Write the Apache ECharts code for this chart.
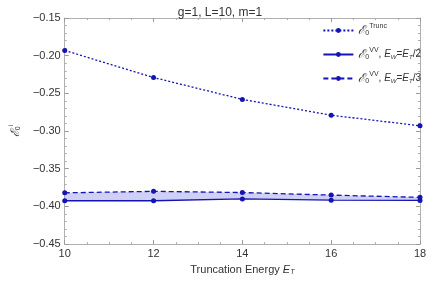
<!DOCTYPE html>
<html><head><meta charset="utf-8">
<script src="https://cdn.jsdelivr.net/npm/echarts@6/dist/echarts.min.js"></script>
<style>html,body{margin:0;padding:0;background:#fff}#c{width:440px;height:281px}</style>
</head><body><div id="c"></div>
<script>
const energies = [10, 12, 14, 16, 18];
const trunc = [-0.193, -0.229, -0.258, -0.279, -0.293];
const vvHalf = [-0.3925, -0.3925, -0.390, -0.3917, -0.392];
const vvThird = [-0.382, -0.380, -0.3816, -0.385, -0.388];
const xTicks = [10, 12, 14, 16, 18];
const yTicks = [-0.45, -0.40, -0.35, -0.30, -0.25, -0.20, -0.15];

const blue = '#1414b4';
const pair = a => a.map((v, i) => [energies[i], v]);
const bandData = energies.map((e, i) => [e, vvHalf[i], vvThird[i]]);
const rich = {
  e: {fontFamily: 'DejaVu Serif', fontStyle: 'italic', fontSize: 12, color: '#333'},
  sub: {fontSize: 7, color: '#333', padding: [6, 0, 0, 0]},
  sup: {fontSize: 7, color: '#333', padding: [0, 0, 8, 0]},
  t: {fontSize: 10, color: '#333'},
  it: {fontSize: 10, fontStyle: 'italic', color: '#333'},
  s: {fontSize: 6, fontStyle: 'italic', color: '#333', padding: [5, 0, 0, 0]}
};
const chart = echarts.init(document.getElementById('c'));
const axisLine = {show: true, lineStyle: {color: '#b0b0b0', width: 1}};
const axisTick = {show: true, inside: true, length: 4, lineStyle: {color: '#999'}};
chart.setOption({
  animation: false,
  title: {text: 'g=1, L=10, m=1', left: 'center', top: 2,
    textStyle: {fontSize: 12, fontWeight: 'normal', color: '#333', fontFamily: 'Liberation Sans'}},
  grid: {left: 55, right: 20, top: 18, bottom: 35},
  legend: {
    right: 14, top: 18, orient: 'vertical', itemGap: 10, itemWidth: 30, itemHeight: 6,
    data: ['trunc', 'half', 'third'],
    formatter: n => n === 'trunc' ? '{e|ℰ}{sub|0}{sup|Trunc}'
      : n === 'half' ? '{e|ℰ}{sub|0}{sup|VV}{t|, }{it|E}{s|W}{t|=}{it|E}{s|T}{t|/2}'
      : '{e|ℰ}{sub|0}{sup|VV}{t|, }{it|E}{s|W}{t|=}{it|E}{s|T}{t|/3}',
    textStyle: {rich: rich, fontSize: 10}
  },
  xAxis: [
    {type: 'value', min: 10, max: 18, interval: 2, position: 'bottom',
      axisLabel: {color: '#333', fontSize: 11, margin: 4, fontFamily: 'Liberation Sans'},
      axisLine: axisLine, axisTick: axisTick,
      minorTick: {show: true, splitNumber: 4, length: 2, lineStyle: {color: '#aaa'}}, splitLine: {show: false},
      name: '{t|Truncation Energy }{it|E}{s|T}', nameLocation: 'middle', nameGap: 17,
      nameTextStyle: {rich: {t: {fontSize: 11, color: '#333'}, it: {fontSize: 11, fontStyle: 'italic', color: '#333'}, s: {fontSize: 7, fontStyle: 'italic', color: '#333', padding: [6,0,0,0]}}}
    },
    {type: 'value', min: 10, max: 18, interval: 2, position: 'top', axisLabel: {show: false},
      axisLine: axisLine, axisTick: axisTick,
      minorTick: {show: true, splitNumber: 4, length: 2, lineStyle: {color: '#aaa'}}, splitLine: {show: false}}
  ],
  yAxis: [
    {type: 'value', min: -0.45, max: -0.15, interval: 0.05, position: 'left',
      axisLabel: {color: '#333', fontSize: 11, margin: 4, fontFamily: 'Liberation Sans',
        formatter: v => (v < 0 ? '\u2212' : '') + Math.abs(v).toFixed(2)},
      axisLine: axisLine, axisTick: axisTick,
      minorTick: {show: true, splitNumber: 5, length: 2, lineStyle: {color: '#aaa'}}, splitLine: {show: false},
      name: '{e|ℰ}{sub|0}{sup|i}', nameLocation: 'middle', nameGap: 38, nameRotate: 90,
      nameTextStyle: {rich: rich}},
    {type: 'value', min: -0.45, max: -0.15, interval: 0.05, position: 'right', axisLabel: {show: false},
      axisLine: axisLine, axisTick: axisTick,
      minorTick: {show: true, splitNumber: 5, length: 2, lineStyle: {color: '#aaa'}}, splitLine: {show: false}}
  ],
  series: [
    {name: 'band', type: 'custom', data: bandData, silent: true, z: 1,
      encode: {x: 0, y: [1, 2]},
      renderItem: (params, api) => {
        if (params.dataIndex !== 0) return null;
        const lower = [], upper = [];
        for (let i = 0; i < bandData.length; i++) {
          lower.push(api.coord([bandData[i][0], bandData[i][1]]));
          upper.push(api.coord([bandData[i][0], bandData[i][2]]));
        }
        return {type: 'polygon', shape: {points: lower.concat(upper.reverse())},
          style: {fill: 'rgba(100,100,220,0.3)'}};
      }},
    {name: 'trunc', type: 'line', data: pair(trunc), symbol: 'circle', symbolSize: 5,
      itemStyle: {color: blue}, lineStyle: {color: blue, width: 1.3, type: [2, 2]}, z: 3},
    {name: 'half', type: 'line', data: pair(vvHalf), symbol: 'circle', symbolSize: 5,
      itemStyle: {color: blue}, lineStyle: {color: blue, width: 1.3}, z: 3},
    {name: 'third', type: 'line', data: pair(vvThird), symbol: 'circle', symbolSize: 5,
      itemStyle: {color: blue}, lineStyle: {color: blue, width: 1.3, type: [5, 3]}, z: 3}
  ]
});
</script></body></html>
